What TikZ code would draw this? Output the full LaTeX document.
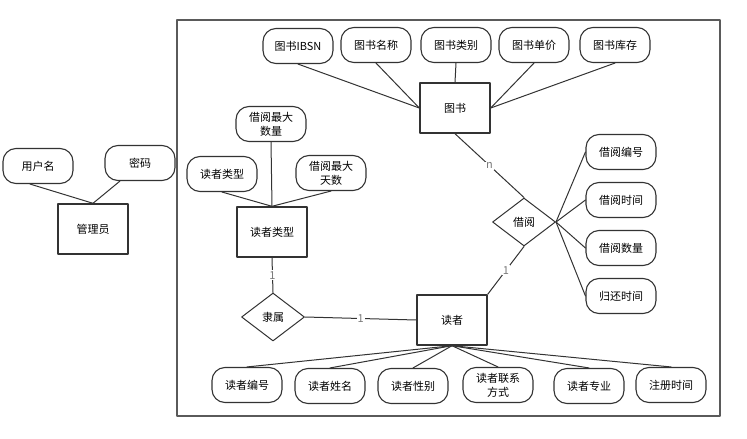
\documentclass[tikz,border=0pt]{standalone}
\usepackage{fontspec}
\usepackage{xcolor}
\newfontfamily\cjk{Noto Sans CJK SC}
\usetikzlibrary{shapes.geometric}

\definecolor{edgegray}{HTML}{333333}
\definecolor{framegray}{HTML}{5A5A5A}
\definecolor{cardgray}{HTML}{7A7A7A}

\tikzset{
  entity/.style={draw=edgegray, line width=1.4pt, fill=white, minimum width=70pt, minimum height=50pt, inner sep=0pt, font=\cjk\fontsize{11}{14}\selectfont},
  attr/.style={draw=edgegray, line width=1.1pt, fill=white, rounded corners=13pt, minimum width=70pt, minimum height=35pt, inner sep=0pt, align=center, font=\cjk\fontsize{11}{14}\selectfont},
  rel/.style={draw=edgegray, line width=1pt, fill=white, diamond, minimum width=63pt, minimum height=48pt, inner sep=0pt, font=\cjk\fontsize{11}{14}\selectfont},
  link/.style={draw=edgegray, line width=1pt},
  card/.style={fill=white, inner sep=1pt, text=cardgray, font=\cjk\fontsize{11}{13}\selectfont}
}

\begin{document}
\begin{tikzpicture}[x=1pt, y=-1pt, line cap=round, line join=round]
  \useasboundingbox (0,0) rectangle (747,439);

  % Frame round the library part
  \draw[framegray, line width=1.8pt] (177,20) rectangle (720,416);

  % Manager
  \node[entity] (admin) at (93,229) {管理员};
  \node[attr] (uname) at (38,166) {用户名};
  \node[attr] (pwd) at (140,163) {密码};
  \draw[link] ([xshift=-8pt]uname.south) -- (admin.north);
  \draw[link] ([xshift=-20pt]pwd.south) -- (admin.north);

  % Book and its attributes
  \node[entity] (book) at (455,108) {图书};
  \node[attr] (bisbn) at (298,46) {图书IBSN};
  \node[attr] (bname) at (376,45) {图书名称};
  \node[attr] (btype) at (456,45) {图书类别};
  \node[attr] (bprice) at (534,45) {图书单价};
  \node[attr] (bstock) at (615,45) {图书库存};
  \draw[link] (bisbn.south) -- (book.west);
  \draw[link] (bname.south) -- (book.west);
  \draw[link] (btype.south) -- (book.north);
  \draw[link] (bprice.south) -- (book.east);
  \draw[link] (bstock.south) -- (book.east);

  % Reader type and its attributes
  \node[entity] (rtype) at (272,232) {读者类型};
  \node[attr] (maxnum) at (271,124) {借阅最大\\数量};
  \node[attr] (rtname) at (222,174) {读者类型};
  \node[attr] (maxday) at (331,173) {借阅最大\\天数};
  \draw[link] (maxnum.south) -- (rtype.north);
  \draw[link] (rtname.south) -- (rtype.north);
  \draw[link] (maxday.south) -- (rtype.north);

  % Reader
  \node[entity] (reader) at (452,320) {读者};
  \node[attr] (rid) at (247,385) {读者编号};
  \node[attr] (rname) at (330,386) {读者姓名};
  \node[attr] (rsex) at (413,386) {读者性别};
  \node[attr] (rtel) at (498,385) {读者联系\\方式};
  \node[attr] (rmajor) at (589,386) {读者专业};
  \node[attr] (rreg) at (671,385) {注册时间};
  \foreach \a in {rid,rname,rsex,rtel,rmajor,rreg}
    \draw[link] (reader.south) -- (\a.north);

  % Relations
  \node[rel] (belong) at (273,317) {隶属};
  \node[rel] (borrow) at (524,222) {借阅};
  \draw[link] (rtype.south) -- node[card] {1} (belong.north);
  \draw[link] (belong.east) -- node[card] {1} (reader.west);
  \draw[link] (book.south) -- node[card] {n} (borrow.north);
  \draw[link] (borrow.south) -- node[card] {1} (reader.north east);

  % Borrow attributes
  \node[attr] (bno) at (621,152) {借阅编号};
  \node[attr] (btime) at (621,200) {借阅时间};
  \node[attr] (bcount) at (621,248) {借阅数量};
  \node[attr] (bback) at (621,296) {归还时间};
  \foreach \a in {bno,btime,bcount,bback}
    \draw[link] (borrow.east) -- (\a.west);

\end{tikzpicture}
\end{document}
